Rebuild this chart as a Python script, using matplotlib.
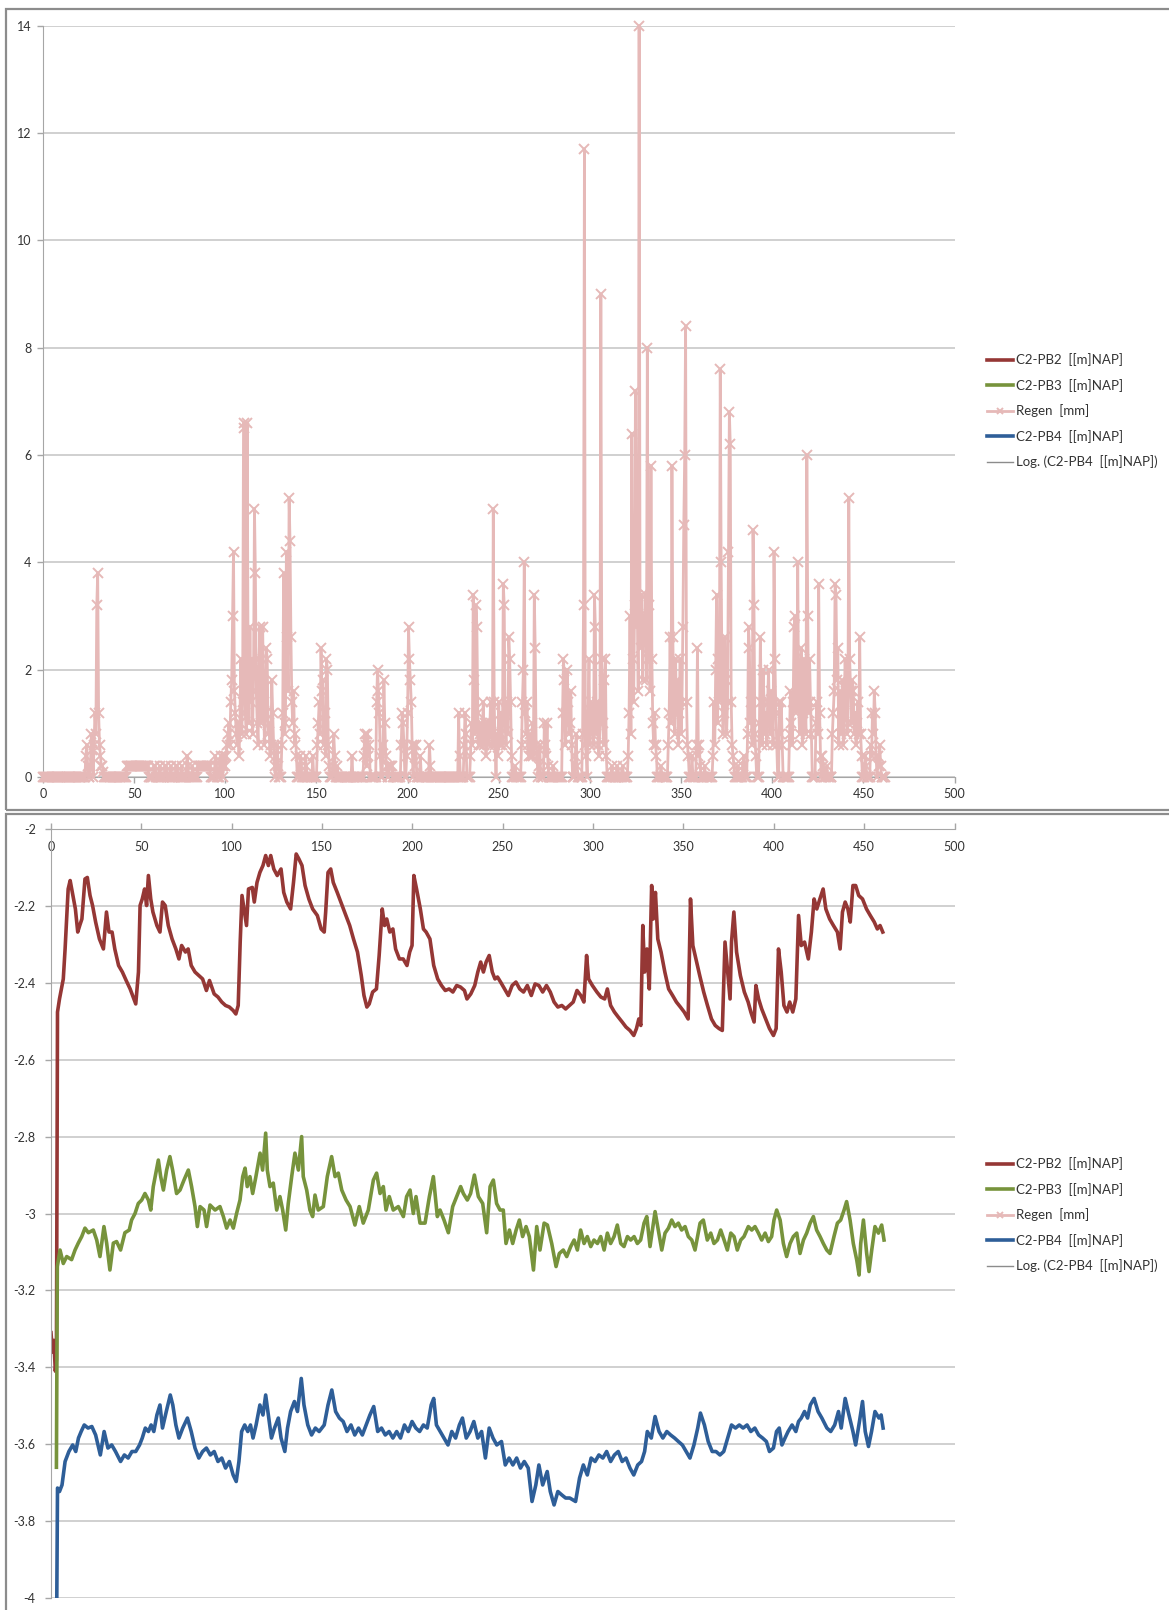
import numpy as np
import matplotlib.pyplot as plt
from matplotlib.lines import Line2D
from matplotlib.patches import Rectangle
from matplotlib.ticker import FuncFormatter

plt.rcParams['font.family'] = ['Lato', 'DejaVu Sans']
plt.rcParams['axes.unicode_minus'] = False

# ---- data ----
# rain (Regen [mm]): start day of each shower and the readings (every half day)
rain_start = [23.5, 26, 28, 29.5, 32.5, 46, 61, 64, 67, 70, 73, 76, 79, 82, 85, 90, 94.5, 97, 99,
              101, 103.5, 108, 110, 113.5, 118.5, 122, 128, 131, 141, 144, 148, 150.5, 159, 161.5,
              169.5, 176, 183, 186.5, 190, 196.5, 199.5, 203.5, 207, 212, 228, 231, 234.5, 240,
              249, 259, 262.5, 267, 272, 275, 280, 285, 292, 296, 299, 306, 312, 315, 318, 321,
              335.5, 339, 343, 356, 358.5, 363, 367.5, 378.5, 381, 384, 386.5, 393, 404, 409.5,
              424, 427.5, 430, 433, 438, 446.5, 451, 454, 458]
rain_runs = [
    [0.4, 0.6, 0.2], [0.2, 0.8, 0.5], [0.6, 1.2, 0.8], [3.2, 3.8, 1.2, 0.6, 0.4, 0.2], [0.2, 0.1],
    [0.2, 0.2, 0.2, 0.2, 0.2, 0.2, 0.2, 0.2, 0.2, 0.2, 0.2, 0.2, 0.2, 0.2, 0.2, 0.2, 0.2, 0.2,
     0.2, 0.2, 0.2, 0.2, 0.2, 0.2],
    [0.2, 0.2], [0.2], [0.2, 0.2], [0.2], [0.2, 0.2], [0.2], [0.4, 0.2], [0.2],
    [0.2, 0.2, 0.2, 0.2, 0.2, 0.2, 0.2, 0.2, 0.2, 0.2], [0.2, 0.2, 0.2, 0.2], [0.4, 0.2],
    [0.2, 0.4, 0.2], [0.2, 0.4, 0.2, 0.4],
    [0.6, 0.8, 1.0, 0.6, 1.4], [1.8, 3.0, 4.2, 1.6, 1.2, 0.8, 0.6, 1.0, 0.4],
    [1.0, 2.2, 0.8, 1.4], [6.6, 6.5, 1.2, 0.8, 6.6, 2.0, 1.0],
    [2.8, 1.4, 2.2, 0.8, 2.0, 5.0, 3.8, 1.6, 1.0, 0.6],
    [2.2, 2.8, 1.0, 1.6, 2.8, 1.4, 0.6],
    [1.2, 2.4, 2.2, 0.8, 1.0, 0.4, 0.6, 1.8, 1.2, 0.6, 0.2], [0.4, 0.6, 0.2],
    [0.6, 1.2, 3.8, 0.8, 1.0, 4.2, 2.6, 1.6, 5.2, 4.4, 2.6, 1.4, 1.0, 1.6, 0.6, 0.8, 0.4],
    [0.4, 0.2], [0.4, 0.2], [0.4],
    [0.6, 1.0, 1.4, 0.8, 2.4, 1.6, 1.8, 0.6, 1.2, 0.4, 2.2, 2.0, 0.6, 0.2],
    [0.2, 0.8, 0.4], [0.2], [0.4], [0.4, 0.8, 0.6, 0.2, 0.8, 0.4, 0.6],
    [1.4, 2.0, 1.6, 1.2, 0.4], [0.6, 1.8, 1.0, 0.4, 0.2], [0.2, 0.2, 0.2, 0.2],
    [0.6, 1.2, 1.0, 0.6], [0.4, 1.2, 2.8, 2.2, 1.8, 1.4, 0.6], [0.6, 0.2, 0.6], [0.4],
    [0.6, 0.2], [1.2, 0.4], [0.6, 1.2, 0.8],
    [0.4, 1.0, 0.6, 3.4, 1.8, 0.8, 3.2, 2.8, 1.2, 0.6, 0.8],
    [1.0, 0.6, 0.8, 1.4, 0.6, 1.0, 0.4, 0.8, 1.0, 0.6, 0.8, 1.4, 1.0, 0.6, 5.0, 1.4, 0.6],
    [0.8, 0.4, 1.4, 0.6, 1.2, 0.8, 0.6, 3.6, 3.2, 1.0, 0.6, 1.4, 0.8, 2.6, 2.2, 1.4, 0.4],
    [0.2], [0.6, 1.4, 2.0, 4.0, 1.2, 0.8, 1.4, 0.6, 0.4],
    [0.8, 0.4, 0.6, 1.0, 0.4, 3.4, 2.4, 0.6, 0.4], [0.2, 0.6], [1.0, 0.6, 0.4, 1.0, 0.2], [0.2],
    [1.2, 2.2, 1.8, 0.6, 1.2, 2.0, 1.4, 0.8, 1.0, 1.6, 0.6], [0.4, 0.8, 0.2],
    [0.8, 3.2, 11.7, 0.6, 0.4],
    [1.2, 2.2, 0.6, 1.4, 0.8, 1.0, 0.6, 3.4, 2.8, 0.8, 1.4, 0.6, 0.4, 1.0],
    [9.0, 2.2, 1.0, 0.6, 1.8, 2.2, 0.4], [0.2], [0.2], [0.2],
    [0.4, 1.2, 3.0, 0.8, 6.4, 2.2, 1.4, 3.2, 7.2, 2.8, 3.4, 1.6, 14.0, 3.0, 2.4, 3.4, 1.8,
     3.0, 2.6, 3.4, 1.8, 8.0, 2.2, 3.2, 1.6, 5.8, 2.2, 1.0, 0.6],
    [1.2, 0.6, 0.4], [0.2],
    [0.6, 1.2, 2.6, 1.0, 5.8, 2.6, 1.4, 0.8, 2.2, 1.2, 1.8, 0.6, 1.2, 2.2, 0.8, 1.4, 2.8, 4.7,
     6.0, 8.4, 1.4, 0.6, 0.4],
    [0.4], [0.6, 2.4, 0.4, 0.6, 0.2], [0.2],
    [0.4, 1.4, 0.6, 2.0, 3.4, 1.0, 2.2, 1.4, 7.6, 4.0, 1.6, 0.8, 1.2, 2.6, 1.8, 0.8, 1.4, 4.2,
     6.8, 6.2, 1.4, 0.6],
    [0.4, 0.2], [0.2], [0.2, 0.4], [0.8, 2.8, 2.4, 1.0, 1.4, 0.6, 4.6, 3.2, 0.8, 0.4],
    [1.0, 2.6, 1.4, 0.6, 2.0, 1.4, 0.8, 1.2, 0.6, 1.4, 2.0, 1.0, 0.8, 1.6, 1.2, 0.6, 4.2, 2.2,
     1.2, 0.6],
    [1.4, 0.8, 1.4, 0.6],
    [0.8, 1.6, 1.0, 0.6, 1.4, 2.8, 3.0, 1.2, 1.4, 4.0, 1.4, 0.8, 1.6, 2.4, 0.6, 1.2, 2.2, 1.4,
     0.8, 6.0, 3.0, 1.2, 2.2, 1.4, 0.8],
    [1.0, 1.4, 0.8, 3.6, 1.2, 0.4], [0.4, 0.2], [0.2],
    [0.8, 1.2, 1.6, 3.6, 3.4, 1.8, 2.4, 0.6, 1.6, 0.8],
    [1.2, 1.8, 0.6, 1.4, 2.2, 1.6, 0.8, 1.0, 5.2, 2.2, 1.6, 1.0, 1.8, 1.6, 0.8, 1.2, 0.6],
    [1.0, 1.4, 0.8, 2.6, 0.8, 0.4], [0.4, 0.2], [0.6, 0.4, 1.2, 0.8, 1.6, 1.2, 0.4],
    [0.4, 0.2, 0.6, 0.2],
]
rain_last_day = 462

# C2-PB2 [[m]NAP]
pb2_day = [0.0, 0.8, 1.6, 2.4, 3.0, 3.6, 4.7, 6.8, 7.8, 9.5, 10.6, 12.1, 13.5, 14.8, 15.9, 17.1,
           18.8, 20.1, 21.6, 23.0, 24.7, 26.8, 29.0, 30.7, 32.1, 33.8, 35.3, 37.4, 39.5, 41.6,
           43.8, 45.9, 46.9, 48.4, 49.3, 50.5, 51.8, 52.9, 53.9, 55.2, 56.4, 58.6, 60.3, 61.7,
           63.2, 64.9, 67.0, 69.1, 70.8, 72.3, 74.4, 75.9, 77.6, 79.7, 81.8, 83.9, 86.0, 87.7,
           90.3, 92.4, 94.5, 96.6, 98.7, 100.8, 102.3, 103.6, 104.7, 105.7, 106.8, 108.2, 109.3,
           111.4, 112.5, 114.0, 115.6, 117.3, 118.8, 120.3, 121.6, 123.3, 125.2, 127.3, 128.8,
           130.5, 132.6, 134.2, 135.7, 137.2, 138.9, 140.6, 142.7, 144.8, 147.4, 149.5, 151.2,
           152.0, 153.3, 154.8, 156.2, 158.4, 161.1, 163.2, 165.3, 167.4, 169.6, 171.7, 173.2,
           174.8, 176.1, 178.0, 180.1, 181.6, 183.3, 184.6, 185.8, 187.5, 189.2, 190.7, 192.8,
           194.9, 197.0, 198.5, 199.8, 200.8, 202.3, 204.4, 206.1, 207.6, 209.7, 211.8, 214.0,
           216.1, 218.2, 220.3, 222.4, 224.5, 226.6, 228.8, 230.2, 232.3, 234.5, 236.2, 237.8,
           239.3, 240.8, 242.5, 244.2, 245.7, 247.1, 248.8, 251.0, 253.1, 255.2, 257.3, 259.4,
           261.5, 263.6, 265.8, 267.9, 270.0, 272.1, 274.2, 276.3, 278.4, 280.5, 282.7, 284.8,
           286.9, 289.0, 291.1, 293.2, 294.9, 296.4, 297.5, 299.6, 302.1, 304.3, 306.4, 307.9,
           309.7, 311.8, 313.9, 316.1, 318.2, 320.4, 322.5, 324.0, 325.3, 326.4, 327.5, 328.5,
           329.8, 331.1, 332.4, 333.3, 334.5, 335.8, 337.6, 339.7, 341.8, 344.0, 346.1, 348.3,
           350.4, 352.6, 353.9, 355.2, 356.9, 359.0, 361.2, 363.3, 365.5, 367.6, 369.7, 371.5,
           373.0, 374.5, 375.8, 376.6, 377.9, 379.4, 381.5, 383.7, 385.8, 387.3, 389.1, 390.1,
           391.6, 393.3, 395.5, 397.6, 399.8, 401.3, 402.6, 404.1, 405.6, 407.3, 408.8, 410.5,
           412.2, 413.7, 415.2, 417.0, 419.1, 420.8, 422.3, 423.8, 425.5, 427.3, 428.8, 430.9,
           433.0, 435.2, 436.7, 438.0, 439.5, 441.0, 442.3, 443.8, 445.3, 447.0, 449.1, 451.3,
           453.4, 455.6, 457.3, 458.8, 460.3]
pb2_lvl = [-3.31, -3.36, -3.33, -3.41, -3.38, -2.476, -2.442, -2.39, -2.312, -2.156, -2.134,
           -2.173, -2.208, -2.268, -2.251, -2.234, -2.130, -2.126, -2.173, -2.199, -2.242, -2.286,
           -2.312, -2.216, -2.268, -2.268, -2.312, -2.355, -2.372, -2.394, -2.416, -2.442, -2.455,
           -2.372, -2.199, -2.182, -2.156, -2.199, -2.121, -2.182, -2.216, -2.251, -2.268, -2.190,
           -2.199, -2.251, -2.286, -2.312, -2.338, -2.303, -2.320, -2.312, -2.355, -2.372, -2.381,
           -2.390, -2.420, -2.394, -2.429, -2.437, -2.450, -2.459, -2.463, -2.472, -2.481, -2.459,
           -2.294, -2.173, -2.208, -2.251, -2.156, -2.152, -2.190, -2.139, -2.113, -2.095, -2.069,
           -2.095, -2.069, -2.104, -2.121, -2.104, -2.165, -2.190, -2.208, -2.139, -2.065, -2.078,
           -2.095, -2.147, -2.182, -2.208, -2.225, -2.260, -2.268, -2.216, -2.113, -2.104, -2.139,
           -2.165, -2.199, -2.225, -2.251, -2.286, -2.320, -2.381, -2.433, -2.463, -2.455, -2.424,
           -2.416, -2.329, -2.208, -2.251, -2.234, -2.268, -2.260, -2.312, -2.338, -2.338, -2.355,
           -2.320, -2.303, -2.121, -2.156, -2.208, -2.260, -2.268, -2.286, -2.355, -2.390, -2.407,
           -2.420, -2.416, -2.424, -2.407, -2.411, -2.420, -2.442, -2.429, -2.407, -2.372, -2.346,
           -2.372, -2.346, -2.329, -2.372, -2.390, -2.385, -2.398, -2.416, -2.433, -2.407, -2.398,
           -2.416, -2.424, -2.407, -2.433, -2.403, -2.407, -2.424, -2.407, -2.424, -2.450, -2.463,
           -2.459, -2.468, -2.459, -2.450, -2.420, -2.433, -2.450, -2.329, -2.390, -2.407, -2.424,
           -2.437, -2.442, -2.416, -2.459, -2.476, -2.489, -2.502, -2.515, -2.524, -2.537, -2.519,
           -2.494, -2.511, -2.251, -2.372, -2.312, -2.416, -2.147, -2.234, -2.165, -2.286, -2.320,
           -2.372, -2.416, -2.433, -2.450, -2.463, -2.476, -2.494, -2.182, -2.303, -2.338, -2.381,
           -2.424, -2.459, -2.494, -2.511, -2.519, -2.524, -2.294, -2.372, -2.442, -2.294, -2.216,
           -2.320, -2.381, -2.424, -2.450, -2.476, -2.502, -2.407, -2.442, -2.468, -2.494, -2.519,
           -2.537, -2.519, -2.312, -2.372, -2.459, -2.476, -2.450, -2.476, -2.442, -2.225, -2.303,
           -2.294, -2.338, -2.268, -2.182, -2.208, -2.182, -2.156, -2.208, -2.234, -2.251, -2.268,
           -2.312, -2.216, -2.190, -2.208, -2.242, -2.147, -2.147, -2.173, -2.182, -2.208, -2.225,
           -2.242, -2.260, -2.251, -2.268]

# C2-PB3 [[m]NAP]
pb3_day = [3.0, 3.5, 5.0, 6.8, 8.7, 11.4, 13.3, 15.1, 17.0, 18.8, 20.7, 23.4, 25.3, 27.1, 29.3,
           30.8, 32.6, 34.5, 36.3, 38.5, 40.9, 43.3, 44.6, 46.5, 48.3, 50.2, 52.0, 53.9, 55.2,
           56.6, 59.4, 60.7, 62.2, 64.0, 65.8, 67.3, 69.5, 71.4, 73.6, 76.0, 77.8, 79.7, 81.0,
           82.5, 84.7, 86.1, 88.0, 90.8, 93.5, 95.4, 97.2, 99.1, 100.9, 102.7, 104.6, 106.1,
           107.4, 108.6, 110.1, 111.6, 113.4, 115.7, 117.1, 118.8, 119.7, 121.2, 123.0, 124.9,
           126.7, 128.2, 129.9, 131.3, 133.2, 135.0, 136.9, 138.7, 139.6, 141.5, 143.3, 144.8,
           146.1, 147.9, 150.7, 152.9, 155.3, 157.2, 159.0, 160.9, 163.3, 165.5, 168.2, 170.6,
           172.8, 175.6, 178.4, 180.2, 182.1, 183.9, 185.4, 187.2, 189.4, 192.2, 195.0, 196.8,
           198.7, 200.5, 202.0, 204.2, 207.0, 209.4, 211.6, 213.8, 215.3, 217.5, 219.9, 222.3,
           224.5, 226.7, 228.2, 230.4, 232.2, 234.3, 236.5, 238.9, 241.1, 243.0, 244.8, 246.6,
           248.5, 250.3, 251.8, 253.7, 255.5, 257.4, 259.2, 261.0, 262.9, 264.7, 267.0, 268.8,
           270.6, 272.9, 274.7, 277.1, 279.5, 281.3, 283.5, 285.4, 287.6, 289.5, 291.3, 293.1,
           295.0, 296.8, 298.7, 300.5, 302.4, 304.2, 306.1, 307.9, 309.7, 311.6, 313.4, 315.3,
           317.1, 319.0, 320.8, 322.7, 324.5, 326.3, 328.2, 329.7, 331.5, 334.3, 336.1, 338.0,
           339.8, 341.7, 343.5, 345.3, 347.2, 349.0, 350.9, 352.7, 354.6, 356.4, 359.2, 361.0,
           363.2, 365.1, 366.9, 368.8, 370.6, 372.5, 374.3, 376.2, 378.0, 379.8, 381.7, 383.5,
           385.9, 387.8, 389.6, 391.5, 393.3, 395.2, 397.0, 398.8, 400.1, 401.6, 403.5, 405.3,
           407.1, 409.0, 410.8, 412.7, 414.5, 416.4, 418.2, 420.1, 421.9, 423.7, 425.6, 427.4,
           429.3, 431.1, 433.3, 435.2, 437.0, 438.9, 440.3, 442.2, 444.0, 445.9, 447.2, 448.1,
           449.6, 451.4, 452.7, 454.2, 456.0, 457.9, 459.7, 461.0]
pb3_lvl = [-3.66, -3.138, -3.095, -3.13, -3.112, -3.12, -3.095, -3.077, -3.06, -3.038, -3.05,
           -3.043, -3.069, -3.112, -3.034, -3.077, -3.147, -3.077, -3.073, -3.095, -3.05, -3.043,
           -3.017, -3.0, -2.974, -2.965, -2.948, -2.965, -2.991, -2.93, -2.861, -2.904, -2.939,
           -2.887, -2.852, -2.887, -2.948, -2.939, -2.913, -2.887, -2.93, -2.982, -3.034, -2.982,
           -2.991, -3.034, -2.978, -2.991, -2.982, -3.008, -3.038, -3.017, -3.038, -3.0, -2.965,
           -2.904, -2.882, -2.93, -2.904, -2.948, -2.904, -2.843, -2.887, -2.791, -2.887, -2.93,
           -2.921, -2.991, -2.956, -2.991, -3.043, -2.974, -2.904, -2.843, -2.887, -2.8, -2.904,
           -2.939, -2.991, -3.008, -2.952, -2.991, -2.982, -2.904, -2.852, -2.904, -2.895, -2.939,
           -2.965, -2.982, -3.03, -2.982, -3.025, -2.991, -2.913, -2.895, -2.948, -2.93, -2.991,
           -2.956, -2.991, -2.982, -3.008, -2.956, -2.939, -3.0, -2.956, -3.025, -3.025, -2.956,
           -2.904, -3.008, -2.991, -3.017, -3.05, -2.982, -2.956, -2.93, -2.948, -2.965, -2.948,
           -2.9, -2.956, -2.974, -3.05, -2.93, -2.913, -2.974, -2.991, -2.991, -3.078, -3.043,
           -3.078, -3.043, -3.017, -3.06, -3.034, -3.06, -3.147, -3.034, -3.095, -3.025, -3.03,
           -3.078, -3.138, -3.104, -3.095, -3.112, -3.086, -3.069, -3.095, -3.043, -3.078, -3.06,
           -3.086, -3.069, -3.078, -3.06, -3.095, -3.051, -3.078, -3.06, -3.03, -3.078, -3.086,
           -3.06, -3.069, -3.06, -3.078, -3.069, -3.025, -3.008, -3.086, -2.995, -3.043, -3.095,
           -3.051, -3.038, -3.017, -3.034, -3.025, -3.043, -3.034, -3.06, -3.069, -3.095, -3.025,
           -3.017, -3.069, -3.051, -3.078, -3.069, -3.043, -3.069, -3.095, -3.051, -3.06, -3.095,
           -3.069, -3.06, -3.034, -3.043, -3.034, -3.051, -3.069, -3.051, -3.073, -3.06, -3.017,
           -2.991, -3.017, -3.078, -3.112, -3.078, -3.06, -3.051, -3.104, -3.069, -3.051, -3.025,
           -3.008, -3.043, -3.06, -3.078, -3.095, -3.104, -3.06, -3.025, -3.017, -2.991, -2.969,
           -3.017, -3.078, -3.121, -3.16, -3.078, -3.017, -3.104, -3.151, -3.095, -3.034, -3.051,
           -3.03, -3.069]

# C2-PB4 [[m]NAP]
pb4_day = [3.0, 3.6, 4.7, 6.1, 7.8, 9.9, 12.0, 13.7, 15.2, 16.7, 18.4, 20.5, 22.6, 24.7, 27.3,
           29.4, 31.5, 33.6, 35.7, 38.5, 40.6, 42.7, 44.8, 46.9, 49.0, 50.5, 52.2, 53.9, 55.4,
           56.9, 58.6, 60.3, 61.7, 63.8, 66.0, 67.4, 69.1, 70.8, 72.9, 75.5, 77.6, 79.7, 81.8,
           83.9, 86.0, 88.2, 90.3, 92.4, 94.5, 96.6, 98.7, 100.8, 102.5, 104.0, 105.5, 107.2,
           108.9, 110.4, 111.8, 113.5, 115.6, 117.3, 118.8, 120.3, 122.0, 123.7, 125.8, 127.3,
           129.4, 130.9, 132.6, 134.7, 136.4, 138.5, 140.0, 142.1, 144.2, 146.3, 148.4, 151.2,
           153.3, 155.4, 157.5, 159.6, 161.7, 163.8, 166.0, 168.1, 170.2, 172.3, 174.4, 176.5,
           178.6, 180.8, 182.9, 185.0, 187.1, 189.2, 191.3, 193.4, 195.6, 197.7, 199.8, 201.9,
           204.0, 206.1, 208.2, 210.4, 211.8, 213.3, 215.4, 217.5, 219.7, 221.8, 223.9, 226.0,
           227.7, 229.8, 231.9, 234.0, 236.2, 238.3, 240.4, 242.5, 244.6, 246.7, 249.3, 251.4,
           253.5, 255.6, 257.7, 259.8, 261.9, 264.1, 266.2, 268.3, 270.0, 272.1, 274.6, 276.3,
           278.4, 280.5, 282.7, 284.8, 287.1, 290.3, 292.5, 294.6, 296.8, 298.9, 301.1, 303.2,
           305.4, 307.5, 309.7, 311.8, 313.9, 316.1, 318.2, 320.4, 322.5, 324.7, 326.8, 328.5,
           330.0, 332.2, 334.3, 336.5, 338.6, 340.8, 342.9, 345.1, 347.2, 349.4, 351.5, 353.6,
           355.8, 357.9, 359.4, 361.6, 363.7, 365.9, 368.0, 370.2, 372.3, 374.5, 376.6, 378.8,
           380.9, 383.0, 385.2, 387.3, 389.5, 391.6, 393.8, 395.9, 397.6, 399.8, 401.5, 403.0,
           404.5, 406.2, 407.9, 410.1, 412.2, 413.7, 415.2, 417.0, 418.7, 420.2, 422.3, 424.5,
           426.6, 429.4, 431.5, 433.7, 435.8, 437.3, 439.5, 441.6, 443.8, 445.3, 447.4, 449.1,
           450.6, 452.4, 454.1, 456.0, 458.2, 459.4, 460.5]
pb4_lvl = [-4.15, -3.714, -3.723, -3.706, -3.645, -3.619, -3.602, -3.619, -3.584, -3.567, -3.55,
           -3.558, -3.554, -3.576, -3.628, -3.567, -3.61, -3.602, -3.619, -3.645, -3.628, -3.636,
           -3.619, -3.619, -3.602, -3.584, -3.558, -3.567, -3.55, -3.567, -3.524, -3.498, -3.558,
           -3.515, -3.472, -3.498, -3.55, -3.584, -3.558, -3.532, -3.567, -3.61, -3.636, -3.619,
           -3.61, -3.628, -3.619, -3.645, -3.636, -3.662, -3.645, -3.68, -3.697, -3.645, -3.567,
           -3.55, -3.567, -3.55, -3.584, -3.55, -3.498, -3.524, -3.472, -3.524, -3.584, -3.558,
           -3.532, -3.584, -3.619, -3.558, -3.515, -3.489, -3.515, -3.429, -3.498, -3.55, -3.576,
           -3.558, -3.567, -3.55, -3.498, -3.459, -3.515, -3.532, -3.541, -3.567, -3.55, -3.576,
           -3.558, -3.576, -3.55, -3.524, -3.502, -3.567, -3.558, -3.576, -3.567, -3.584, -3.567,
           -3.584, -3.55, -3.567, -3.541, -3.558, -3.567, -3.55, -3.558, -3.498, -3.481, -3.55,
           -3.567, -3.584, -3.602, -3.567, -3.584, -3.55, -3.532, -3.584, -3.567, -3.541, -3.584,
           -3.567, -3.636, -3.558, -3.584, -3.602, -3.593, -3.654, -3.636, -3.654, -3.636, -3.662,
           -3.645, -3.662, -3.749, -3.706, -3.654, -3.706, -3.671, -3.723, -3.758, -3.723, -3.732,
           -3.74, -3.74, -3.749, -3.688, -3.654, -3.68, -3.636, -3.645, -3.628, -3.636, -3.619,
           -3.645, -3.628, -3.619, -3.645, -3.636, -3.662, -3.68, -3.654, -3.645, -3.619, -3.567,
           -3.584, -3.528, -3.567, -3.584, -3.567, -3.576, -3.584, -3.593, -3.602, -3.619, -3.636,
           -3.602, -3.558, -3.519, -3.55, -3.593, -3.619, -3.619, -3.628, -3.619, -3.584, -3.55,
           -3.558, -3.55, -3.558, -3.55, -3.567, -3.558, -3.576, -3.584, -3.593, -3.619, -3.61,
           -3.567, -3.558, -3.602, -3.584, -3.567, -3.55, -3.567, -3.541, -3.532, -3.515, -3.532,
           -3.498, -3.481, -3.515, -3.532, -3.558, -3.567, -3.55, -3.515, -3.558, -3.481, -3.524,
           -3.567, -3.602, -3.541, -3.489, -3.567, -3.606, -3.567, -3.515, -3.532, -3.524, -3.558]

labels = ['C2-PB2  [[m]NAP]', 'C2-PB3  [[m]NAP]', 'Regen  [mm]', 'C2-PB4  [[m]NAP]',
          'Log. (C2-PB4  [[m]NAP])']
c_pb2, c_pb3, c_rain, c_pb4, c_log = '#953735', '#77933C', '#E6B9B8', '#2E5E98', '#8C8C8C'

# rain readings on a half-day grid
rain_t = np.arange(0, rain_last_day + 0.5, 0.5)
rain = np.zeros(len(rain_t))
for start, run in zip(rain_start, rain_runs):
    i0 = int(round(start * 2))
    rain[i0:i0 + len(run)] = run

W, H = 1169, 1610
fig = plt.figure(figsize=(W / 100, H / 100), dpi=100)


def fx(px):
    return px / W


def fy(py):
    return 1 - py / H


ax1 = fig.add_axes([fx(43), fy(777), (954.5 - 43) / W, (777 - 25.7) / H])
ax2 = fig.add_axes([fx(51), fy(1598), (954.5 - 51) / W, (1598 - 829) / H])

# chart area borders
for top, bot in [(9, 810), (813.5, 1625)]:
    fig.patches.append(Rectangle((fx(5.5), fy(bot)), (1180 - 5.5) / W, (bot - top) / H,
                                 transform=fig.transFigure, fill=False, ec='#8C8C8C', lw=1.6))

grid_c, axis_c, txt_c = '#C4C4C4', '#A6A6A6', '#333333'
fmt = FuncFormatter(lambda v, p: '%g' % round(v, 1))

# --- top chart: rain ---
l2, = ax1.plot(pb2_day, pb2_lvl, color=c_pb2, lw=2.6)
l3, = ax1.plot(pb3_day, pb3_lvl, color=c_pb3, lw=2.6)
lr, = ax1.plot(rain_t, rain, color=c_rain, lw=2.0, marker='x', ms=7.5, mew=1.4, zorder=3,
               clip_on=False)
l4, = ax1.plot(pb4_day, pb4_lvl, color=c_pb4, lw=2.6)
llog = Line2D([], [], color=c_log, lw=1.0)
ax1.set_xlim(0, 500)
ax1.set_ylim(0, 14)
ax1.set_xticks(np.arange(0, 501, 50))
ax1.set_yticks(np.arange(0, 15, 2))

# --- bottom chart: water levels ---
ax2.plot(pb2_day, pb2_lvl, color=c_pb2, lw=2.6)
ax2.plot(pb3_day, pb3_lvl, color=c_pb3, lw=2.6)
ax2.plot(pb4_day, pb4_lvl, color=c_pb4, lw=2.6)
ax2.set_xlim(0, 500)
ax2.set_ylim(-4, -2)
ax2.set_xticks(np.arange(0, 501, 50))
ax2.set_yticks(np.round(np.arange(-4, -1.99, 0.2), 1))
ax2.xaxis.tick_top()

for ax in (ax1, ax2):
    ax.set_axisbelow(True)
    ax.yaxis.grid(True, color=grid_c, lw=1.1)
    ax.yaxis.set_major_formatter(fmt)
    ax.xaxis.set_major_formatter(fmt)
    for s in ax.spines.values():
        s.set_visible(False)
    ax.spines['left'].set_visible(True)
    ax.spines['left'].set_color(axis_c)
    ax.tick_params(colors=axis_c, labelcolor=txt_c, labelsize=9, length=4, width=1,
                   direction='out')

ax1.spines['bottom'].set_visible(True)
ax1.spines['bottom'].set_color(axis_c)
ax1.tick_params(axis='y', pad=4.3)
ax1.tick_params(axis='x', pad=4.0)
ax2.spines['top'].set_visible(True)
ax2.spines['top'].set_color(axis_c)
ax2.tick_params(axis='y', pad=7.0)
ax2.tick_params(axis='x', top=True, bottom=False, labeltop=True, labelbottom=False, pad=-21)

handles = [l2, l3, lr, l4, llog]
for yc in (411, 1215):
    fig.legend(handles, labels, loc='center left', bbox_to_anchor=(fx(987), fy(yc)),
               frameon=False, borderpad=0, borderaxespad=0, handlelength=2.0,
               handletextpad=0.2, labelspacing=0.95, fontsize=9.5, labelcolor=txt_c,
               markerscale=0.5)

fig.savefig('out.png', dpi=100)
